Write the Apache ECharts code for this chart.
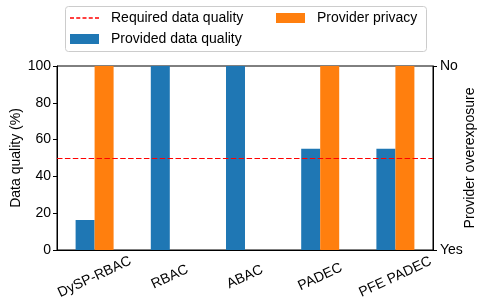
<!DOCTYPE html>
<html>
<head>
<meta charset="utf-8">
<script src="https://cdn.jsdelivr.net/npm/echarts@6/dist/echarts.min.js"></script>
<style>
html,body{margin:0;padding:0;background:#fff;}
#c{width:478px;height:303px;}
</style>
</head>
<body>
<div id="c"></div>
<script>
var categories = ['DySP-RBAC', 'RBAC', 'ABAC', 'PADEC', 'PFE PADEC'];
var providedQuality = [16.3, 100, 100, 55, 55];
var providerPrivacy = [100, 0, 0, 100, 100];
var requiredQuality = 50;
var leftTicks = [0, 20, 40, 60, 80, 100];
var rightTickLabels = { 0: 'Yes', 100: 'No' };

var FONT = 'Liberation Sans, Arial, sans-serif';
var FS = 14;
var chart = echarts.init(document.getElementById('c'), null, { renderer: 'canvas' });

var dashIcon = 'path://M0 0h4v1.5H0z M6.25 0h4v1.5h-4z M12.5 0h4v1.5h-4z M18.75 0h4v1.5h-4z M25 0h4v1.5h-4z';
var legendText = { fontSize: FS, color: '#000', fontFamily: FONT, padding: [0, 0, 0, 7] };

chart.setOption({
  animation: false,
  textStyle: { fontFamily: FONT },
  grid: { left: 57, right: 45, top: 66, bottom: 53, outerBoundsMode: 'none', containLabel: false,
    show: true, borderColor: '#000', borderWidth: 1, backgroundColor: 'transparent' },
  graphic: [{
    type: 'rect', left: 65, top: 6, z: 5,
    shape: { width: 361, height: 45, r: 3 },
    style: { fill: 'rgba(255,255,255,0.8)', stroke: '#cccccc', lineWidth: 1 }
  }],
  legend: [
    { data: [{ name: 'Required data quality', icon: dashIcon }], left: 65, top: 6, itemWidth: 29, itemHeight: 2, z: 10,
      textStyle: legendText, selectedMode: false },
    { data: [{ name: 'Provided data quality', icon: 'rect' }], left: 65, top: 27, itemWidth: 29, itemHeight: 10, z: 10,
      textStyle: legendText, selectedMode: false },
    { data: [{ name: 'Provider privacy', icon: 'rect' }], left: 271, top: 6, itemWidth: 29, itemHeight: 10, z: 10,
      textStyle: legendText, selectedMode: false }
  ],
  xAxis: {
    type: 'category', data: categories,
    axisLine: { lineStyle: { color: '#000', width: 1 } },
    axisTick: { alignWithLabel: true, length: 4, lineStyle: { color: '#000' } },
    axisLabel: { rotate: 25, align: 'center', verticalAlign: 'middle', margin: 27, fontSize: FS, color: '#000', fontFamily: FONT, interval: 0 },
    splitLine: { show: false }
  },
  yAxis: [{
    type: 'value', min: 0, max: 100, interval: 20,
    name: 'Data quality (%)', nameLocation: 'middle', nameRotate: 90, nameGap: 34, nameMoveOverlap: false,
    nameTextStyle: { fontSize: FS, color: '#000', fontFamily: FONT },
    axisLine: { show: true, lineStyle: { color: '#000', width: 1 } },
    axisTick: { show: true, length: 4, lineStyle: { color: '#000' } },
    axisLabel: { margin: 6, fontSize: FS, color: '#000', fontFamily: FONT,
      formatter: function (v) { return leftTicks.indexOf(v) >= 0 ? String(v) : ''; } },
    splitLine: { show: false }
  }, {
    type: 'value', min: 0, max: 100, interval: 100, position: 'right',
    name: 'Provider overexposure', nameLocation: 'middle', nameRotate: 90, nameGap: 30, nameMoveOverlap: false,
    nameTextStyle: { fontSize: FS, color: '#000', fontFamily: FONT },
    axisLine: { show: true, lineStyle: { color: '#000', width: 1 } },
    axisTick: { show: true, length: 4, lineStyle: { color: '#000' } },
    axisLabel: { margin: 7, fontSize: FS, color: '#000', fontFamily: FONT,
      formatter: function (v) { return rightTickLabels[v] || ''; } },
    splitLine: { show: false }
  }],
  series: [{
    name: 'Provided data quality', type: 'bar', data: providedQuality,
    barWidth: 19, barGap: '0%', itemStyle: { color: '#1f77b4' }
  }, {
    name: 'Provider privacy', type: 'bar', data: providerPrivacy,
    barWidth: 19, barGap: '0%', itemStyle: { color: '#ff7f0e' }
  }, {
    name: 'Required data quality', type: 'line', data: [],
    itemStyle: { color: '#ff0000' }, lineStyle: { color: '#ff0000', type: 'dashed' }, symbol: 'none',
    markLine: {
      silent: true, symbol: 'none', label: { show: false },
      lineStyle: { color: '#ff0000', type: [5.5, 2.4], width: 1.2 },
      data: [{ yAxis: requiredQuality }]
    }
  }]
});
</script>
</body>
</html>
